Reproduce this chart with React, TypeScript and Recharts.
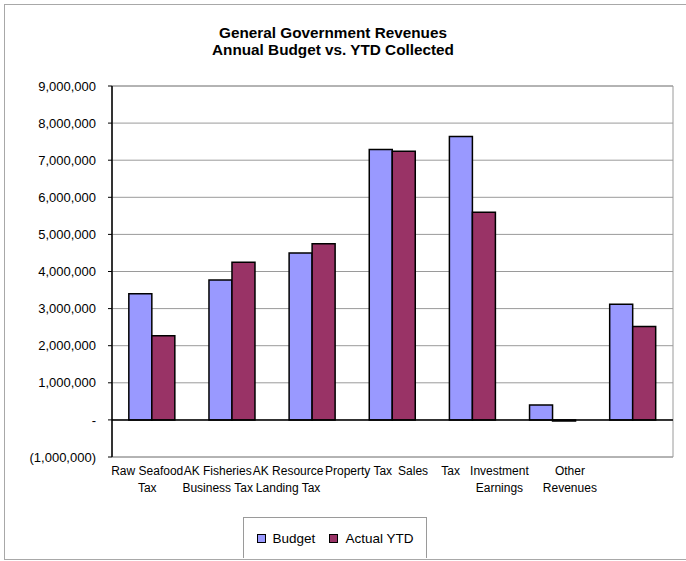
import { Bar, BarChart, CartesianGrid, ReferenceArea, ReferenceLine, XAxis, YAxis } from "recharts"

const categories = [
  "Raw Seafood\nTax",
  "AK Fisheries\nBusiness Tax",
  "AK Resource\nLanding Tax",
  "Property Tax",
  "Sales    Tax",
  "Investment\nEarnings",
  "Other\nRevenues",
]
const budget = [3400000, 3770000, 4500000, 7290000, 7640000, 400000, 3120000]
const actualYtd = [2270000, 4250000, 4750000, 7240000, 5600000, -30000, 2520000]
const yTicks = [-1000000, 0, 1000000, 2000000, 3000000, 4000000, 5000000, 6000000, 7000000, 8000000, 9000000]

const data = categories.map((name, i) => ({ name, budget: budget[i], actual: actualYtd[i] }))

const font = "'Liberation Sans', Arial, sans-serif"
const plotLeft = 112

const fmtY = (v: number) => {
  if (v === 0) return "-"
  const s = Math.abs(v).toLocaleString("en-US")
  return v < 0 ? `(${s})` : s
}

// excel squeezes the category labels toward the left, mimic that
const CatTick = (props: any) => {
  const { x, y, payload } = props
  const lx = plotLeft + (x - plotLeft) * 0.879
  const lines = String(payload.value).split("\n")
  return (
    <text x={lx} y={y} textAnchor="middle" fontSize={12} fill="#000" fontFamily={font} style={{ whiteSpace: "pre" }}>
      {lines.map((l, i) => (
        <tspan key={i} x={lx} dy={i === 0 ? 10 : 17}>{l}</tspan>
      ))}
    </text>
  )
}

const App = () => {
  return (
    <div style={{ position: "absolute", left: 0, top: 0, width: 686, height: 561, background: "#fff", overflow: "hidden" }}>
      <div style={{ position: "absolute", left: 4, top: 4, width: 700, height: 554, border: "1px solid #a8a8a8" }} />
      <div style={{ position: "absolute", left: 0, top: 24, width: 666, textAlign: "center", fontFamily: font,
        fontWeight: "bold", fontSize: 15.3, lineHeight: "17px" }}>
        General Government Revenues<br />Annual Budget vs. YTD Collected
      </div>
      <BarChart width={686} height={561} data={data} barGap={0} barCategoryGap="21%"
        margin={{ top: 86, right: 13, bottom: 74, left: 12 }} style={{ position: "absolute", left: 0, top: 0 }}>
        <CartesianGrid vertical={false} stroke="#9a9a9a" />
        <ReferenceArea y1={-1000000} y2={9000000} fill="none" stroke="#9a9a9a" strokeWidth={1} />
        <XAxis dataKey="name" height={30} axisLine={false} tickLine={false} tick={<CatTick />} interval={0} />
        <YAxis width={100} domain={[-1000000, 9000000]} ticks={yTicks} tickFormatter={fmtY}
          axisLine={{ stroke: "#000", strokeWidth: 1.5 }} tickLine={{ stroke: "#000" }} tickSize={4} tickMargin={12}
          tick={{ fontSize: 13, fill: "#000", fontFamily: font }} interval={0} />
        <ReferenceLine y={0} stroke="#000" strokeWidth={1.5} />
        <Bar dataKey="budget" name="Budget" fill="#9999FF" stroke="#000" strokeWidth={1.5} isAnimationActive={false} />
        <Bar dataKey="actual" name="Actual YTD" fill="#993366" stroke="#000" strokeWidth={1.5} isAnimationActive={false} />
      </BarChart>
      <div style={{ position: "absolute", left: 243, top: 517, width: 182, height: 40, border: "1px solid #9a9a9a",
        borderBottom: "none", background: "#fff", display: "flex", alignItems: "center", justifyContent: "center",
        gap: 14, fontFamily: font, fontSize: 13.5 }}>
        <span style={{ display: "flex", alignItems: "center", gap: 7 }}>
          <span style={{ width: 7, height: 7, background: "#9999FF", border: "1px solid #000" }} />Budget
        </span>
        <span style={{ display: "flex", alignItems: "center", gap: 7 }}>
          <span style={{ width: 7, height: 7, background: "#993366", border: "1px solid #000" }} />Actual YTD
        </span>
      </div>
    </div>
  )
}

export default App
